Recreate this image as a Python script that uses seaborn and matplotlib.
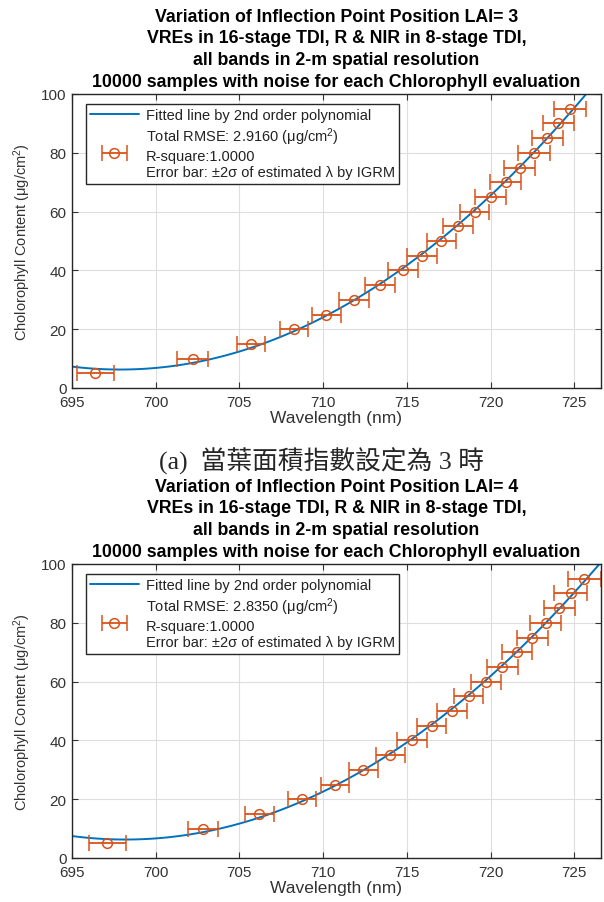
import numpy as np
import pandas as pd
import seaborn as sns
import matplotlib.pyplot as plt
from matplotlib.legend_handler import HandlerErrorbar

# ------------------- DATA -------------------

chl = [5, 10, 15, 20, 25, 30, 35, 40, 45, 50, 55, 60, 65, 70, 75, 80, 85, 90, 95]

# LAI = 3
wl_lai3 = [696.4, 702.2, 705.7, 708.25, 710.2, 711.85, 713.4, 714.75, 715.9, 717.05,
           718.05, 719.05, 720.0, 720.9, 721.75, 722.6, 723.4, 724.05, 724.75]
err_lai3 = [1.08, 0.95, 0.85, 0.85, 0.85, 0.88, 0.88, 0.9, 0.88, 0.86,
            0.88, 0.88, 0.9, 0.94, 0.92, 0.97, 0.93, 0.93, 0.96]

# LAI = 4
wl_lai4 = [697.1, 702.8, 706.2, 708.75, 710.7, 712.4, 714.0, 715.3, 716.5, 717.7,
           718.7, 719.75, 720.7, 721.6, 722.5, 723.3, 724.1, 724.8, 725.6]
err_lai4 = [1.1, 0.9, 0.87, 0.85, 0.85, 0.88, 0.87, 0.9, 0.87, 0.88,
            0.88, 0.9, 0.93, 0.9, 0.93, 0.94, 0.93, 0.99, 0.98]

titles = [
    "Variation of Inflection Point Position LAI= 3\n"
    "VREs in 16-stage TDI, R & NIR in 8-stage TDI,\n"
    "all bands in 2-m spatial resolution\n"
    "10000 samples with noise for each Chlorophyll evaluation",
    "Variation of Inflection Point Position LAI= 4\n"
    "VREs in 16-stage TDI, R & NIR in 8-stage TDI,\n"
    "all bands in 2-m spatial resolution\n"
    "10000 samples with noise for each Chlorophyll evaluation",
]
rmse = ["2.9160", "2.8350"]
caption = "(a)  當葉面積指數設定為 3 時"

x_ticks = [695, 700, 705, 710, 715, 720, 725]
y_ticks = [0, 20, 40, 60, 80, 100]

# ------------------- STYLE -------------------

sns.set_style("ticks")
plt.rcParams['font.family'] = ['Liberation Sans', 'DejaVu Sans']
plt.rcParams['mathtext.fontset'] = 'custom'
plt.rcParams['mathtext.rm'] = 'Liberation Sans'
plt.rcParams['mathtext.it'] = 'Liberation Sans'
plt.rcParams['mathtext.default'] = 'rm'

BLUE = '#0072BD'
ORANGE = '#D95319'
DARK = '#262626'
GREY_TXT = '#333333'


def draw_panel(ax, wl, err, title, rmse_txt):
    df = pd.DataFrame({"wavelength": wl, "chl": chl})
    ax.set_xlim(695, 726.6)
    ax.set_ylim(0, 100)

    # 2nd order polynomial fit, drawn across the full axis
    sns.regplot(data=df, x="wavelength", y="chl", order=2, ci=None, scatter=False,
                truncate=False, ax=ax, line_kws={"color": BLUE, "lw": 1.4})
    fit_line = ax.get_lines()[-1]

    eb = ax.errorbar(df["wavelength"], df["chl"], xerr=err, fmt='o', mfc='none',
                     mec=ORANGE, ecolor=ORANGE, color=ORANGE, ms=7, mew=1.1,
                     capsize=6, capthick=1.3, elinewidth=1.3)

    ax.set_xlim(695, 726.6)
    ax.set_ylim(0, 100)
    ax.set_xticks(x_ticks)
    ax.set_yticks(y_ticks)
    ax.grid(True, color='#dedede', lw=0.8)
    ax.tick_params(direction='in', top=True, right=True, length=4, width=0.8,
                   colors=GREY_TXT, labelsize=11)
    ax.tick_params(axis='x', pad=5)
    ax.tick_params(axis='y', pad=4)
    for s in ax.spines.values():
        s.set_color(DARK)
        s.set_linewidth(1)

    ax.set_xlabel("Wavelength (nm)", fontsize=12.5, color=GREY_TXT, labelpad=1)
    ax.set_ylabel("Cholorophyll Content (μg/cm$^{2}$)", fontsize=10.5, color=GREY_TXT,
                  labelpad=6)
    ax.set_title(title, fontsize=12.8, fontweight='bold', linespacing=1.36,
                 color='black', pad=6)

    labels = [
        "Fitted line by 2nd order polynomial",
        "Total RMSE: " + rmse_txt + " (μg/cm$^{2}$)\nR-square:1.0000\n"
        "Error bar: ±2σ of estimated λ by IGRM",
    ]
    leg = ax.legend([fit_line, eb], labels, loc='upper left',
                    bbox_to_anchor=(14 / 529, 1 - 10 / 294), borderaxespad=0,
                    fontsize=10.5, frameon=True, fancybox=False, framealpha=1,
                    edgecolor=DARK, handlelength=3.3, labelspacing=0.2,
                    borderpad=0.3, handletextpad=0.5,
                    handler_map={type(eb): HandlerErrorbar(xerr_size=0.85)})
    leg.get_frame().set_linewidth(1)
    for t in leg.get_texts():
        t.set_color('#222222')
        t.set_linespacing(1.2)


fig = plt.figure(figsize=(6.04, 9.03), dpi=100)
ax1 = fig.add_axes([72 / 604, 1 - 389 / 903, 529 / 604, 294 / 903])
ax2 = fig.add_axes([72 / 604, 1 - 859 / 903, 529 / 604, 294 / 903])

draw_panel(ax1, wl_lai3, err_lai3, titles[0], rmse[0])
draw_panel(ax2, wl_lai4, err_lai4, titles[1], rmse[1])

fig.text(322 / 604, 1 - 461 / 903, caption, fontsize=18.5, ha='center', va='center',
         family=['Liberation Serif', 'Noto Sans CJK TC'])

fig.savefig("out.png", dpi=100)
